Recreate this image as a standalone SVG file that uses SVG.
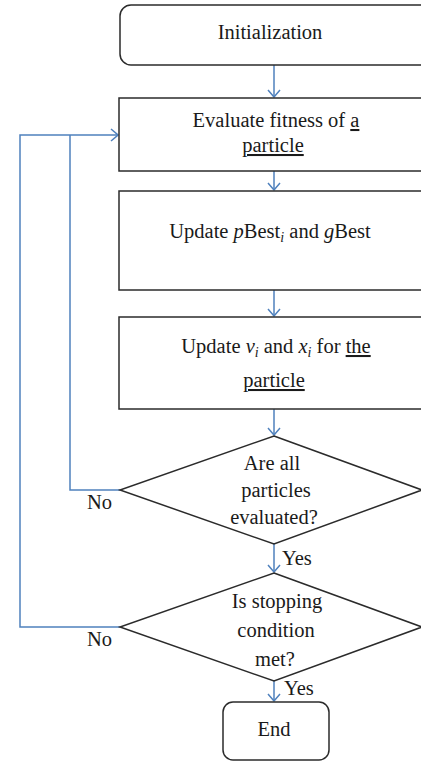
<svg xmlns="http://www.w3.org/2000/svg" width="421" height="761" viewBox="0 0 421 761">
  <style>
    .box { fill: #ffffff; stroke: #2b2b2b; stroke-width: 1.5; }
    .lbl { font-family: "Liberation Serif", "Times New Roman", serif; font-size: 20.5px; fill: #1a1a1a; text-anchor: middle; }
    .side { font-family: "Liberation Serif", "Times New Roman", serif; font-size: 20.5px; fill: #1a1a1a; }
    .it { font-style: italic; }
    .sub { font-style: italic; font-size: 14px; }
    .ul { text-decoration: underline; }
    .edge { fill: none; stroke: #4f81bd; stroke-width: 1.5; }
  </style>
  <defs>
    <marker id="arrow" markerUnits="userSpaceOnUse" viewBox="-9 -7 10 14" refX="0" refY="0" markerWidth="10" markerHeight="14" orient="auto">
      <path d="M-7,-6 L0,0 L-7,6" fill="none" stroke="#4f81bd" stroke-width="1.5"/>
    </marker>
  </defs>
  <rect width="421" height="761" fill="#ffffff"/>

  <g id="connectors">
    <path class="edge" d="M274,65 V97" marker-end="url(#arrow)"/>
    <path class="edge" d="M274,171 V190" marker-end="url(#arrow)"/>
    <path class="edge" d="M274,290 V316" marker-end="url(#arrow)"/>
    <path class="edge" d="M274,409 V435" marker-end="url(#arrow)"/>
    <path class="edge" d="M274,544 V572" marker-end="url(#arrow)"/>
    <path class="edge" d="M274,681 V701" marker-end="url(#arrow)"/>
    <path class="edge" d="M120,490 H70 V135"/>
    <path class="edge" d="M120,627 H20 V135 H118" marker-end="url(#arrow)"/>
  </g>

  <g id="init">
    <rect class="box" x="120" y="5" width="320" height="60" rx="11"/>
    <text class="lbl" x="270" y="39">Initialization</text>
  </g>

  <g id="evaluate">
    <rect class="box" x="119" y="98" width="320" height="73"/>
    <text class="lbl" x="276" y="127">Evaluate fitness of <tspan class="ul">a</tspan></text>
    <text class="lbl" x="273" y="152"><tspan class="ul">particle</tspan></text>
  </g>

  <g id="update-best">
    <rect class="box" x="119" y="191" width="320" height="99"/>
    <text class="lbl" x="270" y="238">Update <tspan class="it">p</tspan>Best<tspan class="sub" dy="4">i</tspan><tspan dy="-4"> and </tspan><tspan class="it">g</tspan>Best</text>
  </g>

  <g id="update-vx">
    <rect class="box" x="119" y="317" width="320" height="92"/>
    <text class="lbl" x="276" y="353">Update <tspan class="it">v</tspan><tspan class="sub" dy="4">i</tspan><tspan dy="-4"> and </tspan><tspan class="it">x</tspan><tspan class="sub" dy="4">i</tspan><tspan dy="-4"> for </tspan><tspan class="ul">the</tspan></text>
    <text class="lbl" x="274" y="387"><tspan class="ul">particle</tspan></text>
  </g>

  <g id="all-evaluated">
    <polygon class="box" points="274,436 422,490 274,544 120,490"/>
    <text class="lbl" x="272" y="470">Are all</text>
    <text class="lbl" x="276" y="497">particles</text>
    <text class="lbl" x="274" y="524">evaluated?</text>
    <text class="side" x="87" y="509">No</text>
    <text class="side" x="282" y="565">Yes</text>
  </g>

  <g id="stop-check">
    <polygon class="box" points="274,573 422,627 274,681 120,627"/>
    <text class="lbl" x="277" y="608">Is stopping</text>
    <text class="lbl" x="276" y="637">condition</text>
    <text class="lbl" x="275" y="666">met?</text>
    <text class="side" x="87" y="646">No</text>
    <text class="side" x="284" y="695">Yes</text>
  </g>

  <g id="end">
    <rect class="box" x="223" y="702" width="106" height="58" rx="10"/>
    <text class="lbl" x="274" y="736">End</text>
  </g>
</svg>
